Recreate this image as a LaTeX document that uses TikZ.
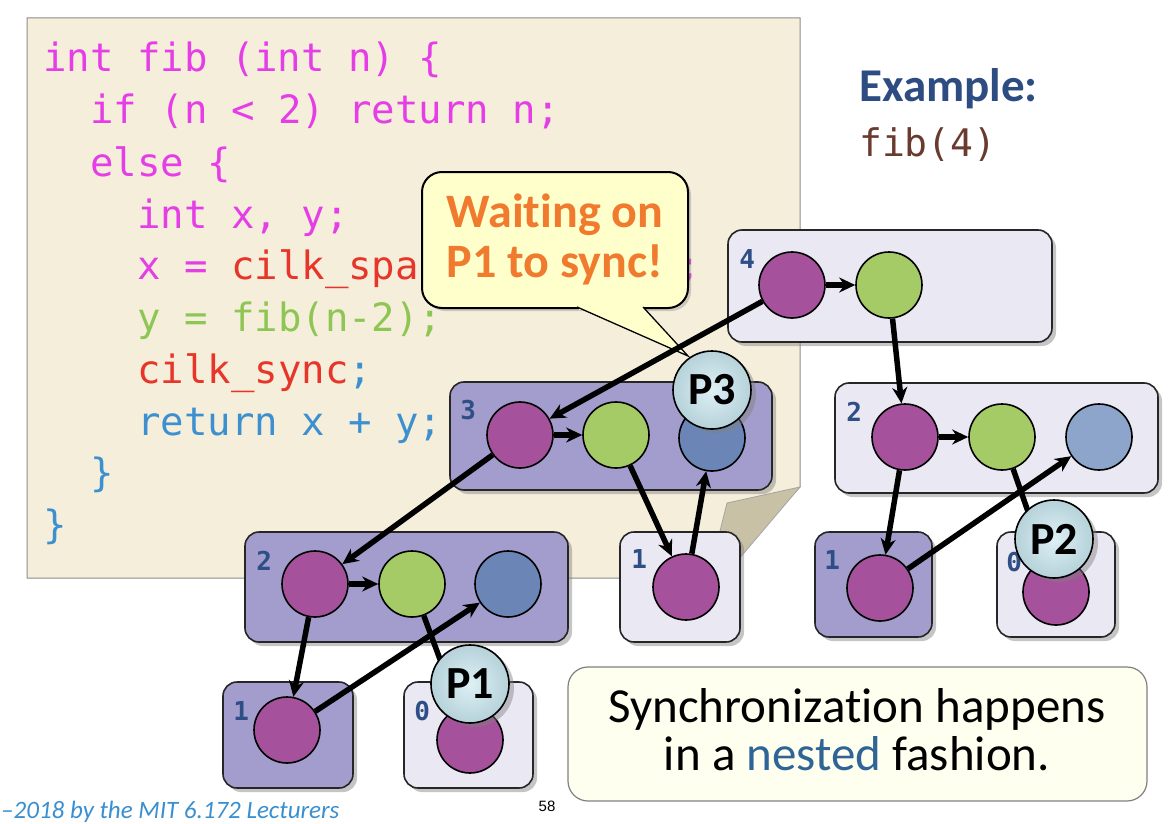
\documentclass[tikz,border=0pt]{standalone}
\usepackage{fontspec}
\setmainfont{Carlito}[Ligatures={NoCommon}]
\newfontfamily\codefont{DejaVu Sans Mono}
\newfontfamily\pagefont{Liberation Sans}
\usetikzlibrary{arrows.meta,shadows}
\definecolor{panelbg}{HTML}{F5EEDB}
\definecolor{panelborder}{HTML}{8C8C8C}
\definecolor{flapcol}{HTML}{C9C1A5}
\definecolor{cmag}{HTML}{E63EE6}
\definecolor{cred}{HTML}{E8352A}
\definecolor{cgreen}{HTML}{8DC653}
\definecolor{cblue}{HTML}{3C90D0}
\definecolor{callfill}{HTML}{FFFFCC}
\definecolor{callorange}{HTML}{F07A2E}
\definecolor{boxpurple}{HTML}{A29DCC}
\definecolor{boxlight}{HTML}{E9E8F3}
\definecolor{nodepurple}{HTML}{A5519B}
\definecolor{nodegreen}{HTML}{A4CB66}
\definecolor{nodeblue}{HTML}{6B86B6}
\definecolor{nodebluelight}{HTML}{8EA5CB}
\definecolor{pfill}{HTML}{C6E6EF}
\definecolor{labelblue}{HTML}{2E4F86}
\definecolor{exblue}{HTML}{2C4C82}
\definecolor{fibbrown}{HTML}{6B3A2E}
\definecolor{nestblue}{HTML}{2E6496}
\definecolor{footblue}{HTML}{3A8FD0}
\definecolor{notefill}{HTML}{FFFFF0}
\definecolor{noteborder}{HTML}{808080}
\begin{document}
\begin{tikzpicture}[x=1pt,y=-1pt,
  codeline/.style={anchor=base west, inner sep=0pt, text=cmag, font=\codefont\fontsize{39}{39}\selectfont},
  tbox/.style={draw=black!85, line width=1.6pt, rounded corners=14pt, inner sep=0pt,
    drop shadow={shadow xshift=4pt, shadow yshift=-4pt, opacity=.45}},
  purplebox/.style={tbox, fill=boxpurple},
  lightbox/.style={tbox, fill=boxlight},
  task/.style={circle, draw=black, line width=1.6pt, minimum size=66pt, inner sep=0pt},
  tp/.style={task, fill=nodepurple},
  tg/.style={task, fill=nodegreen},
  tb/.style={task, fill=nodeblue},
  tbl/.style={task, fill=nodebluelight},
  proc/.style={circle, draw=black, line width=1.6pt, minimum size=78pt, inner sep=0pt,
    inner color=pfill!60!white, outer color=pfill!90!black!95,
    drop shadow={shadow xshift=5pt, shadow yshift=-4pt, opacity=.45},
    font=\bfseries\fontsize{46}{46}\selectfont},
  edge/.style={line width=5.5pt, -{Stealth[length=16pt,width=15pt]}},
  lbl/.style={font=\codefont\bfseries\fontsize{26}{26}\selectfont, text=labelblue, inner sep=0pt}
]
\useasboundingbox (0,0) rectangle (1170,824);
\fill[white] (0,0) rectangle (1170,824);

% code panel with curled corner
\draw[panelborder, fill=panelbg, line width=1pt]
  (27,18) -- (800,18) -- (800,487) -- (735,552) -- (700,578) -- (27,578) -- cycle;
\draw[panelborder!80, fill=flapcol, line width=0.8pt]
  (800,487) -- (727,503) -- (719,535) -- (738,560) -- cycle;

% code
\node[codeline] (c1) at (43,72) {int fib (int n) \{};
\node[codeline] (c2) at (90,124) {if (n < 2) return n;};
\node[codeline] (c3) at (90,176) {else \{};
\node[codeline] (c4) at (137,228) {int x, y;};
\node[codeline] (c5) at (137,279) {x = \textcolor{cred}{cilk\_spa}};
\node[codeline] (c5b) at (677,279) {;};
\node[codeline, text=cgreen] (c6) at (137,331) {y = fib(n-2);};
\node[codeline, text=cred] (c7) at (137,383) {cilk\_sync\textcolor{cblue}{;}};
\node[codeline, text=cblue] (c8) at (137,435) {return x + y;};
\node[codeline, text=cblue] (c9) at (90,486) {\}};
\node[codeline, text=cblue] (c10) at (43,538) {\}};

% callout
\node[draw=black, line width=2pt, fill=callfill, rounded corners=20pt,
  minimum width=266pt, minimum height=136pt, inner sep=0pt,
  drop shadow={shadow xshift=3pt, shadow yshift=-3pt, opacity=.35}] (cb) at (555,240) {};
\coordinate (tip) at (688,356);
\fill[callfill] (577,307) -- (tip) -- (643,307) -- cycle;
\fill[callfill] (579,304.5) rectangle (641,309.5);
\draw[line width=1.3pt, line join=miter] (577,307) -- (tip) -- (643,307);
\node[anchor=base, inner sep=0pt, text=callorange, font=\bfseries\fontsize{48}{48}\selectfont] (w1) at (555,227) {Waiting on};
\node[anchor=base, inner sep=0pt, text=callorange, font=\bfseries\fontsize{48}{48}\selectfont] (w2) at (555,277) {P1 to sync!};

% example title
\node[anchor=base west, inner sep=0pt, text=exblue, font=\bfseries\fontsize{47}{47}\selectfont] (ex) at (859,102) {Example:};
\node[anchor=base west, inner sep=0pt, text=fibbrown, font=\codefont\fontsize{38}{38}\selectfont] (f4) at (859,157) {fib(4)};

% boxes
\node[lightbox, minimum width=324pt, minimum height=112pt] (b4) at (890,286) {};
\node[purplebox, minimum width=322pt, minimum height=108pt] (b3) at (611,436) {};
\node[purplebox, minimum width=323pt, minimum height=110pt] (b2l) at (406.5,587) {};
\node[purplebox, minimum width=130pt, minimum height=106pt] (b1l) at (288,735) {};
\node[lightbox, minimum width=129pt, minimum height=106pt] (b0l) at (468.5,735) {};
\node[lightbox, minimum width=120pt, minimum height=110pt] (b1m) at (680,587) {};
\node[lightbox, minimum width=323pt, minimum height=110pt] (b2r) at (996.5,438) {};
\node[purplebox, minimum width=117pt, minimum height=105pt] (b1r) at (873.5,584.5) {};
\node[lightbox, minimum width=118pt, minimum height=105pt] (b0r) at (1056,584.5) {};

% box labels
\node[lbl] (l4) at ([shift={(20,30)}]b4.north west) {4};
\node[lbl] (l3) at ([shift={(19,29)}]b3.north west) {3};
\node[lbl] (l2l) at ([shift={(20,30)}]b2l.north west) {2};
\node[lbl] (l1l) at ([shift={(19,30)}]b1l.north west) {1};
\node[lbl] (l0l) at ([shift={(19,30)}]b0l.north west) {0};
\node[lbl] (l1m) at ([shift={(20,28)}]b1m.north west) {1};
\node[lbl] (l2r) at ([shift={(20,30)}]b2r.north west) {2};
\node[lbl] (l1r) at ([shift={(18,29)}]b1r.north west) {1};
\node[lbl] (l0r) at ([shift={(18,31)}]b0r.north west) {0};

% task nodes
\node[tp] (n4a) at (792,285) {};
\node[tg] (n4b) at (889,285) {};
\node[tp] (n3a) at (520,435) {};
\node[tg] (n3b) at (616,435) {};
\node[tb] (n3c) at (712,438) {};
\node[tp] (n2a) at (315,584) {};
\node[tg] (n2b) at (412,584) {};
\node[tb] (n2c) at (508,584) {};
\node[tp] (n1a) at (287,730) {};
\node[tp] (n0a) at (470,740) {};
\node[tp] (m1) at (686,587) {};
\node[tp] (r2a) at (905,437) {};
\node[tg] (r2b) at (1002,437) {};
\node[tbl] (r2c) at (1099,437) {};
\node[tp] (r1) at (880,588) {};
\node[tp] (r0) at (1056,592) {};

% edges
\draw[edge] (n4a) -- (n4b);
\draw[edge] (n4a) -- (n3a);
\draw[edge] (n4b) -- (r2a);
\draw[edge] (n3a) -- (n3b);
\draw[edge] (n3a) -- (n2a);
\draw[edge] (n3b) -- (m1);
\draw[edge] (m1) -- (n3c);
\draw[edge] (n2a) -- (n2b);
\draw[edge] (n2a) -- (n1a);
\draw[edge] (n2b) -- (n0a);
\draw[edge] (n1a) -- (n2c);
\draw[edge] (r2a) -- (r2b);
\draw[edge] (r2a) -- (r1);
\draw[edge] (r2b) -- (r0);
\draw[edge] (r1) -- (r2c);

% processors
\node[proc] (p3) at (712,390) {P3};
\node[proc] (p1) at (470,684) {P1};
\node[proc] (p2) at (1054,539) {P2};

% note
\node[draw=noteborder, line width=1.2pt, fill=notefill, rounded corners=20pt,
  minimum width=579pt, minimum height=134pt, inner sep=0pt] (note) at (857.5,734) {};
\node[anchor=base, inner sep=0pt, font=\fontsize{49}{49}\selectfont] (t1) at (857,722) {Synchronization happens};
\node[anchor=base, inner sep=0pt, font=\fontsize{49}{49}\selectfont] (t2) at (857,770) {in a \textcolor{nestblue}{nested} fashion.};

% footer
\node[anchor=base west, inner sep=0pt, text=footblue, font=\itshape\fontsize{25}{25}\selectfont] (foot) at (1,818) {–2018 by the MIT 6.172 Lecturers};
\node[inner sep=0pt, font=\pagefont\fontsize{15}{15}\selectfont] (pg) at (547,806) {58};
\end{tikzpicture}
\end{document}
